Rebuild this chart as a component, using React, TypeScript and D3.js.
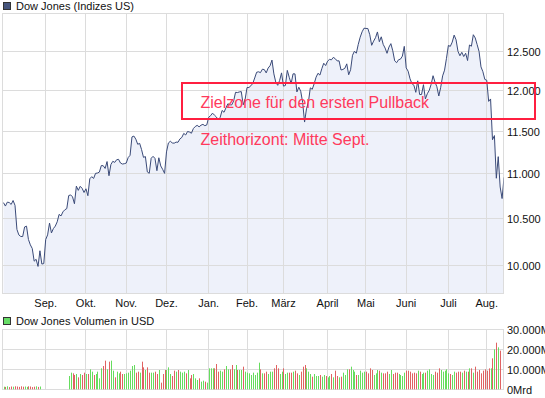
import React from 'react';
import * as d3 from 'd3';

// daily closes, Aug 2010 - Aug 2011
const closes = [
  10674, 10636, 10680, 10675, 10654, 10698, 10644, 10379, 10320, 10303,
  10302, 10406, 10415, 10271, 10213, 10174, 10040, 10060, 9985, 10150,
  10010, 10015, 10270, 10320, 10448, 10341, 10388, 10415, 10462, 10544,
  10527, 10572, 10595, 10608, 10753, 10761, 10739, 10662, 10860, 10812,
  10858, 10835, 10788, 10830, 10752, 10944, 10968, 10948, 11006, 11010,
  11021, 11096, 11095, 11063, 11143, 10979, 11108, 11146, 11133, 11164,
  11169, 11126, 11114, 11118, 11125, 11189, 11216, 11434, 11444, 11407,
  11346, 11357, 11283, 11192, 11201, 11023, 11007, 11181, 11204, 11179,
  11037, 11187, 11092, 11052, 11006, 11256, 11362, 11382, 11362, 11359,
  11372, 11370, 11410, 11428, 11476, 11457, 11499, 11492, 11478, 11534,
  11559, 11573, 11555, 11575, 11585, 11569, 11578, 11671, 11691, 11722,
  11697, 11675, 11638, 11671, 11755, 11732, 11787, 11837, 11825, 11823,
  11871, 11980, 11977, 11985, 11989, 11824, 11892, 12040, 12041, 12062,
  12092, 12161, 12234, 12240, 12229, 12273, 12268, 12226, 12288, 12318,
  12391, 12213, 12106, 12068, 12130, 12226, 12058, 12066, 12258, 12170,
  12090, 12214, 12213, 11985, 12044, 11993, 11855, 11613, 11775, 11858,
  12036, 12018, 12087, 12171, 12221, 12198, 12280, 12350, 12320, 12377,
  12400, 12394, 12426, 12409, 12380, 12381, 12263, 12270, 12285, 12342,
  12202, 12266, 12453, 12506, 12480, 12596, 12691, 12763, 12811, 12808,
  12807, 12724, 12584, 12639, 12685, 12761, 12631, 12696, 12596, 12548,
  12479, 12560, 12606, 12512, 12381, 12357, 12395, 12403, 12442, 12570,
  12290, 12248, 12151, 12089, 12070, 11980, 12125, 11952, 11953, 12076,
  11897, 11962, 12004, 12080, 12190, 12110, 12050, 11934, 12043, 12188,
  12261, 12414, 12582, 12570, 12626, 12719, 12657, 12505, 12447, 12492,
  12437, 12480, 12385, 12588, 12572, 12724, 12681, 12593, 12502, 12303,
  12241, 12143, 12132, 11867, 11897, 11400, 11450, 10950, 11200, 10850,
  10720, 10960,
];

// daily volume (Mio. USD), 0 = no data
const volumes = [
  1300, 1200, 1500, 1100, 1400, 1300, 1500, 1400, 1200, 1500,
  1300, 1400, 1200, 1500, 1400, 1100, 1300, 1500, 1200, 1400,
  0, 0, 0, 0, 0, 0, 0, 0, 0, 0,
  0, 0, 0, 0, 6650, 8320, 7980, 7150, 7650, 5980,
  7650, 7150, 8320, 7650, 7650, 9980, 8820, 7150, 7650, 8820,
  5480, 10480, 11650, 14320, 9980, 13820, 14320, 9320, 5980, 8820,
  7980, 8820, 7650, 7650, 7980, 8320, 9320, 11650, 12150, 8320,
  8820, 8320, 13820, 10980, 9650, 10980, 8320, 8320, 8320, 8820,
  7650, 9650, 3320, 7650, 9650, 9650, 10980, 7650, 6650, 9320,
  8820, 9650, 8820, 8320, 8820, 7980, 9650, 5480, 7150, 7650,
  5480, 4650, 5480, 3820, 4320, 3820, 3320, 10480, 10480, 10480,
  10480, 12650, 8820, 9320, 8820, 9980, 11650, 9980, 9980, 12150,
  9980, 12150, 9650, 9650, 9650, 11320, 8820, 8320, 7980, 7150,
  8320, 7150, 8320, 13320, 9980, 7980, 7980, 8820, 7650, 8820,
  8820, 10480, 12150, 10480, 7650, 8820, 10480, 7650, 8320, 8320,
  8320, 8820, 9320, 7980, 7150, 8820, 11320, 12150, 10480, 8820,
  7650, 6320, 7650, 6650, 6650, 7150, 6320, 7150, 6650, 5980,
  6650, 7650, 5980, 9320, 6650, 5980, 6320, 8320, 7150, 9980,
  9980, 11320, 9650, 8820, 7150, 7150, 9320, 8320, 8820, 8820,
  7980, 10480, 9650, 7150, 7980, 9650, 9320, 8320, 7980, 7980,
  8820, 7650, 9650, 7650, 8320, 8320, 7650, 7150, 6650, 8320,
  9320, 9320, 8820, 7980, 8320, 7980, 9320, 8820, 7650, 8320,
  8320, 9320, 9980, 7650, 7150, 8820, 8320, 10480, 9650, 8820,
  9320, 9980, 7980, 7650, 7150, 8820, 8320, 8820, 8820, 8320,
  9320, 8820, 8820, 10480, 10480, 8320, 11320, 8820, 9650, 7980,
  9320, 9980, 9320, 10480, 10480, 15480, 19980, 23320, 20980, 19320,
  0, 0,
];

const monthLabels = ['Sep.', 'Okt.', 'Nov.', 'Dez.', 'Jan.', 'Feb.', 'März', 'April', 'Mai', 'Juni', 'Juli', 'Aug.'];
const monthStarts = [22, 43, 64, 85, 107, 127, 146, 169, 189, 210, 232, 252];
const priceTicks = [10000, 10500, 11000, 11500, 12000, 12500];
const volumeTicks = [0, 10000, 20000, 30000];

const W = 545;
const H = 398;
const FONT = '"Liberation Sans", Arial, sans-serif';

export default function App() {
  const x = d3.scaleLinear().domain([0, closes.length - 1]).range([3.5, 504]);
  const y = d3.scaleLog().domain([10000, 12500]).range([265, 51.7]);
  const yv = d3.scaleLinear().domain([0, 30000]).range([389.3, 329.3]);

  const de = d3.formatLocale({ decimal: ',', thousands: '.', grouping: [3], currency: ['', ''] });
  const fmt = de.format(',d');
  const crisp = (v: number) => Math.floor(v) + 0.5;

  const pTop = 13.5, pBottom = 293.5, left = 2.5, right = 503.5;
  const vTop = 329.5, vBottom = 389.5;

  const line = d3.line<number>().x((_, i) => x(i)).y(d => y(d));
  const area = d3.area<number>().x((_, i) => x(i)).y0(pBottom).y1(d => y(d));

  const grid = '#dcdcdc';
  const green = '#66dd5e';
  const red = '#e06262';

  return (
    <svg width={W} height={H} style={{ position: 'absolute', left: 0, top: 0 }} fontFamily={FONT}>
      <defs>
        <clipPath id="pclip">
          <rect x={left} y={pTop} width={right - left} height={pBottom - pTop} />
        </clipPath>
      </defs>
      <rect width={W} height={H} fill="#fff" />

      {/* price panel */}
      <rect x={3.5} y={2.5} width={7} height={7} fill="#46557d" stroke="#333" />
      <text x={16} y={10} fontSize={11} fill="#111">Dow Jones (Indizes US)</text>

      <path d={area(closes) || ''} fill="#eef1fa" clipPath="url(#pclip)" />
      {monthStarts.map(m => (
        <line key={'g' + m} x1={crisp(x(m))} x2={crisp(x(m))} y1={pTop} y2={pBottom} stroke={grid} />
      ))}
      {priceTicks.map(t => (
        <line key={'h' + t} x1={left} x2={right} y1={crisp(y(t))} y2={crisp(y(t))} stroke={grid} />
      ))}
      <rect x={left} y={pTop} width={right - left} height={pBottom - pTop} fill="none" stroke={grid} />
      <path d={line(closes) || ''} fill="none" stroke="#3a4a78" strokeWidth={1} clipPath="url(#pclip)" />

      {priceTicks.map(t => (
        <text key={'t' + t} x={507} y={crisp(y(t)) + 4} fontSize={11} fill="#111">{fmt(t)}</text>
      ))}
      {monthLabels.map((m, i) => (
        <text key={m} x={x(monthStarts[i])} y={307} fontSize={11} fill="#111" textAnchor="middle">{m}</text>
      ))}

      {/* annotations */}
      <rect x={182} y={83} width={353} height={36} fill="none" stroke="#ff1f40" strokeWidth={2} />
      <text x={200.5} y={107.5} fontSize={16} fill="#ff3a5c">Zielzone für den ersten Pullback</text>
      <text x={200.5} y={145} fontSize={16} fill="#ff3a5c">Zeithorizont: Mitte Sept.</text>

      {/* volume panel */}
      <rect x={3.5} y={317.5} width={7} height={7} fill="#66dd66" stroke="#333" />
      <text x={16} y={325} fontSize={11} fill="#111">Dow Jones Volumen in USD</text>

      {monthStarts.map(m => (
        <line key={'vg' + m} x1={crisp(x(m))} x2={crisp(x(m))} y1={vTop} y2={vBottom} stroke={grid} />
      ))}
      {volumeTicks.map(t => (
        <line key={'vh' + t} x1={left} x2={right} y1={crisp(yv(t))} y2={crisp(yv(t))} stroke={grid} />
      ))}
      <rect x={left} y={vTop} width={right - left} height={vBottom - vTop} fill="none" stroke={grid} />
      {volumes.map((v, i) =>
        v > 0 ? (
          <rect
            key={'v' + i}
            x={Math.round(x(i))}
            y={yv(v)}
            width={1}
            height={yv(0) - yv(v)}
            fill={i > 0 && closes[i] < closes[i - 1] ? red : green}
          />
        ) : null
      )}
      {volumeTicks.map(t => (
        <text key={'vt' + t} x={507} y={crisp(yv(t)) + 4} fontSize={11} fill="#111">{fmt(t) + 'Mrd'}</text>
      ))}
    </svg>
  );
}
